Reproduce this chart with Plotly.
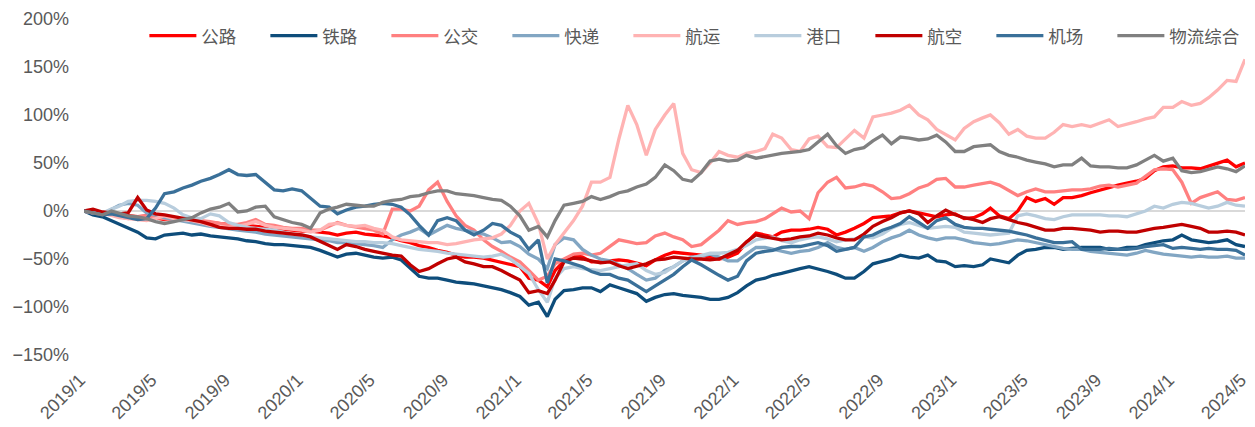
import plotly.graph_objects as go

# semi-monthly sample dates (1st and 16th of each month), 2019/1 .. 2024/5
dates = []
for m in range(65):
    y = 2019 + m // 12
    mo = m % 12 + 1
    dates.append(f"{y}-{mo:02d}-01")
    if m < 64:
        dates.append(f"{y}-{mo:02d}-16")

tick_vals = ["2019-01-01", "2019-05-01", "2019-09-01", "2020-01-01", "2020-05-01", "2020-09-01",
             "2021-01-01", "2021-05-01", "2021-09-01", "2022-01-01", "2022-05-01", "2022-09-01",
             "2023-01-01", "2023-05-01", "2023-09-01", "2024-01-01", "2024-05-01"]
tick_text = ["2019/1", "2019/5", "2019/9", "2020/1", "2020/5", "2020/9", "2021/1", "2021/5",
             "2021/9", "2022/1", "2022/5", "2022/9", "2023/1", "2023/5", "2023/9", "2024/1", "2024/5"]

gonglu = [0, -2, -4, -3, -4, -5, -6, -5, -7, -9,
          -8, -9, -10, -11, -12, -13, -14, -15, -15, -16,
          -17, -18, -19, -20, -21, -21, -22, -23, -25, -23,
          -22, -24, -25, -26, -28, -31, -33, -36, -38, -41,
          -43, -46, -48, -48, -49, -51, -53, -55, -58, -70,
          -72, -79, -62, -52, -46, -48, -53, -53, -52, -51,
          -52, -54, -57, -51, -46, -43, -44, -45, -46, -48,
          -50, -48, -44, -33, -23, -25, -27, -22, -20, -20,
          -19, -17, -19, -25, -22, -18, -13, -7, -6, -5,
          -2, 0, -2, -4, -6, -4, -3, -8, -7, -3,
          3, -5, -8, 0, 14, 10, 13, 7, 14, 14,
          16, 19, 22, 25, 27, 29, 31, 34, 42, 46,
          47, 45, 45, 44, 47, 50, 53, 46, 50]

tielu = [0, -4, -6, -10, -13, -17, -22, -28, -29, -25,
         -24, -23, -25, -24, -26, -27, -28, -29, -31, -32,
         -34, -35, -35, -36, -37, -38, -41, -45, -48, -45,
         -44, -46, -48, -49, -48, -51, -60, -68, -70, -70,
         -72, -74, -75, -76, -78, -80, -82, -85, -89, -98,
         -95, -110, -92, -83, -82, -80, -80, -84, -77, -80,
         -83, -86, -94, -90, -87, -86, -88, -89, -90, -92,
         -92, -90, -85, -78, -72, -70, -67, -65, -62, -60,
         -58, -60, -63, -66, -70, -70, -63, -55, -52, -50,
         -46, -48, -49, -46, -52, -53, -58, -57, -58, -56,
         -50, -52, -54, -46, -41, -40, -38, -38, -40, -39,
         -38, -38, -38, -40, -40, -38, -38, -35, -33, -31,
         -30, -25, -30, -32, -33, -32, -30, -35, -37]

gongjiao = [0, -2, -3, -4, -6, -8, -6, -5, -7, -8,
            -10, -9, -8, -10, -11, -13, -14, -14, -12, -9,
            -14, -15, -17, -18, -18, -20, -20, -16, -12, -15,
            -17, -18, -20, -24, 2, 2, 0, 5, 22, 30,
            10, -5, -15, -20, -30, -37, -42, -48, -53, -62,
            -72, -68, -55, -50, -45, -44, -46, -44, -37, -30,
            -32, -34, -33, -26, -23, -27, -30, -37, -35, -28,
            -20, -10, -14, -12, -11, -8, -3, 3, -1, 0,
            -8, 19, 30, 35, 24, 25, 28, 26, 20, 13,
            14, 18, 24, 27, 33, 34, 25, 25, 27, 29,
            30, 27, 21, 16, 20, 23, 20, 20, 21, 22,
            22, 23, 26, 27, 25, 27, 29, 36, 43, 44,
            43, 30, 8, 14, 17, 20, 12, 11, 14]

kuaidi = [0, -2, -3, 2, 6, 8, 6, -2, -4, -7,
          -9, -11, -12, -14, -16, -17, -19, -20, -21, -22,
          -24, -25, -26, -27, -28, -29, -30, -31, -33, -33,
          -34, -35, -36, -38, -30, -25, -22, -18, -25, -20,
          -15, -18, -20, -22, -24, -28, -33, -32, -37, -45,
          -50, -60, -35, -28, -30, -40, -46, -50, -52, -56,
          -60, -66, -72, -70, -62, -58, -52, -48, -47, -45,
          -48, -52, -52, -45, -38, -38, -40, -42, -44, -42,
          -41, -38, -33, -38, -40, -38, -42, -38, -32, -28,
          -25, -20, -25, -28, -30, -28, -28, -30, -33, -34,
          -35, -34, -32, -30, -31, -33, -35, -37, -39, -40,
          -40, -42, -43, -44, -45, -46, -44, -41, -43, -45,
          -46, -47, -48, -47, -48, -48, -47, -49, -49]

hangyun = [0, -2, -2, -5, -7, -8, -9, -10, -8, -5,
           -8, -9, -10, -12, -15, -16, -17, -16, -14, -11,
           -15, -17, -18, -19, -20, -22, -20, -14, -13, -15,
           -16, -15, -18, -20, -27, -30, -31, -32, -33, -33,
           -35, -34, -32, -30, -29, -28, -24, -15, 0, 8,
           -13, -50, -35, -23, -10, 5, 30, 30, 35, 75,
           110, 90, 58, 85, 100, 112, 60, 43, 40, 50,
           62, 58, 56, 60, 62, 65, 80, 76, 64, 62,
           75, 78, 67, 66, 75, 84, 76, 98, 100, 102,
           105, 110, 100, 95, 85, 80, 74, 86, 93, 97,
           100, 92, 80, 85, 78, 76, 76, 82, 90, 88,
           90, 88, 92, 95, 88, 90, 93, 96, 98, 108,
           108, 114, 110, 112, 118, 126, 136, 135, 158]

gangkou = [0, -1, -2, 2, 5, 10, 11, 11, 10, 8,
           3, -4, -7, -8, -3, -5, -12, -15, -17, -18,
           -19, -20, -22, -24, -25, -27, -28, -29, -30, -31,
           -32, -32, -33, -33, -34, -36, -38, -40, -41, -42,
           -44, -45, -46, -47, -48, -47, -45, -50, -58, -65,
           -82, -95, -70, -60, -58, -60, -61, -62, -60, -58,
           -56, -55, -62, -66, -64, -58, -52, -49, -46, -44,
           -44, -43, -40, -36, -30, -28, -27, -31, -33, -30,
           -28, -27, -29, -32, -30, -29, -27, -28, -24, -18,
           -14, -12, -15, -18, -17, -16, -17, -22, -23, -24,
           -25, -24, -23, -5, -3, -5, -8, -9, -6, -4,
           -4, -4, -4, -5, -5, -6, -3, 0, 5, 3,
           7, 9, 8, 5, 3, 5, 9, 6, 5]

hangkong = [0, 2, -1, -2, -3, -2, 14, 1, -3, -4,
            -6, -7, -9, -11, -14, -17, -18, -18, -19, -19,
            -21, -22, -23, -24, -25, -27, -32, -36, -40, -35,
            -37, -40, -42, -44, -46, -47, -56, -63, -60, -55,
            -50, -48, -53, -55, -58, -58, -62, -67, -72, -85,
            -83, -86, -72, -53, -49, -50, -52, -54, -53, -57,
            -60, -58, -55, -51, -50, -48, -49, -50, -50, -51,
            -50, -46, -41, -32, -25, -27, -28, -30, -29, -27,
            -26, -23, -25, -28, -30, -30, -24, -16, -11, -7,
            -2, 0, -3, -12, -5, 1, -4, -7, -9, -12,
            -8, -6, -9, -12, -14, -17, -20, -20, -18, -18,
            -19, -20, -22, -21, -21, -22, -22, -20, -18, -17,
            -15, -14, -16, -18, -22, -22, -21, -22, -25]

jichang = [0, -2, -4, -3, -5, -7, -9, -8, 3, 18,
           20, 24, 27, 31, 34, 38, 43, 38, 37, 38,
           30, 22, 21, 23, 21, 13, 5, 4, -3, 1,
           4, 5, 7, 8, 7, 4, -4, -15, -25, -10,
           -7, -10, -20, -25, -20, -13, -15, -22, -27, -40,
           -30, -75, -50, -52, -55, -58, -63, -66, -66, -70,
           -72, -78, -84, -78, -72, -66, -58, -51, -56, -62,
           -67, -72, -68, -52, -44, -42, -41, -38, -37, -37,
           -35, -33, -36, -42, -40, -38, -27, -25, -20, -17,
           -13, -6, -12, -18, -10, -7, -14, -17, -18, -18,
           -19, -20, -21, -23, -25, -28, -31, -33, -33, -32,
           -40, -40, -40, -39, -40, -40, -39, -37, -36, -35,
           -39, -38, -39, -40, -39, -40, -40, -41, -46]

wuliu = [0, -2, -4, 0, -2, -5, -6, -8, -11, -13,
         -11, -9, -7, -2, 2, 4, 8, -1, 0, 4,
         5, -6, -9, -12, -14, -18, -2, 2, 4, 7,
         6, 5, 5, 9, 11, 12, 15, 16, 19, 21,
         21, 18, 17, 16, 14, 12, 11, 5, -5, -20,
         -16, -27, -10, 6, 8, 10, 15, 12, 15, 19,
         21, 25, 28, 35, 48, 42, 33, 31, 40, 52,
         54, 52, 53, 58, 55, 57, 58, 60, 61, 62,
         64, 72, 80, 68, 60, 64, 66, 73, 79, 70,
         77, 76, 74, 75, 79, 72, 62, 62, 67, 68,
         69, 62, 58, 56, 53, 51, 49, 46, 48, 48,
         55, 47, 46, 46, 45, 45, 48, 53, 58, 52,
         55, 42, 40, 41, 43, 46, 44, 41, 47]

series_names = ["公路", "铁路", "公交", "快递", "航运", "港口", "航空", "机场", "物流综合"]
series_values = [gonglu, tielu, gongjiao, kuaidi, hangyun, gangkou, hangkong, jichang, wuliu]
series_colors = ["#FF0000", "#0E4D7B", "#FF8080", "#82A6C3", "#FFB3B3", "#B8CDDD", "#C00000", "#3A7099", "#808080"]

FONT = "Liberation Sans, Arial, Noto Sans CJK SC, sans-serif"

fig = go.Figure()
for name, vals, col in zip(series_names, series_values, series_colors):
    fig.add_trace(go.Scatter(x=dates, y=vals, name=name, mode="lines",
                             line=dict(color=col, width=3.3),
                             legendwidth=(80 if len(name) > 2 else None)))

# page has an 8px body margin: compensate so the plot area lands on the reference pixels
fig.update_layout(
    width=1247, height=419,
    margin=dict(l=76, r=10, t=11, b=72, autoexpand=False),
    plot_bgcolor="white", paper_bgcolor="white",
    font=dict(family=FONT, size=18, color="#595959"),
    legend=dict(orientation="h", x=0.052, xanchor="left", y=0.95, yanchor="middle",
                itemwidth=47, entrywidth=59,
                font=dict(family="Noto Sans CJK SC, sans-serif", size=17.5, color="#595959"),
                bgcolor="rgba(0,0,0,0)", tracegroupgap=0),
    xaxis=dict(type="date", range=["2019-01-01", "2024-05-01"], tickmode="array",
               tickvals=tick_vals, ticktext=tick_text, tickangle=-45, showgrid=False,
               showline=False, zeroline=False, ticks="", automargin=False,
               ticklabelstandoff=10, ticklabelshift=-4,
               tickfont=dict(family=FONT, size=18, color="#595959")),
    yaxis=dict(range=[-150, 200], tickmode="linear", tick0=-150, dtick=50, ticksuffix="%",
               showgrid=False, showline=False, zeroline=True, zerolinecolor="#D9D9D9",
               zerolinewidth=2, ticks="", ticklabelstandoff=14, automargin=False,
               tickfont=dict(family=FONT, size=18, color="#595959")),
)

fig.write_html("out.html")
